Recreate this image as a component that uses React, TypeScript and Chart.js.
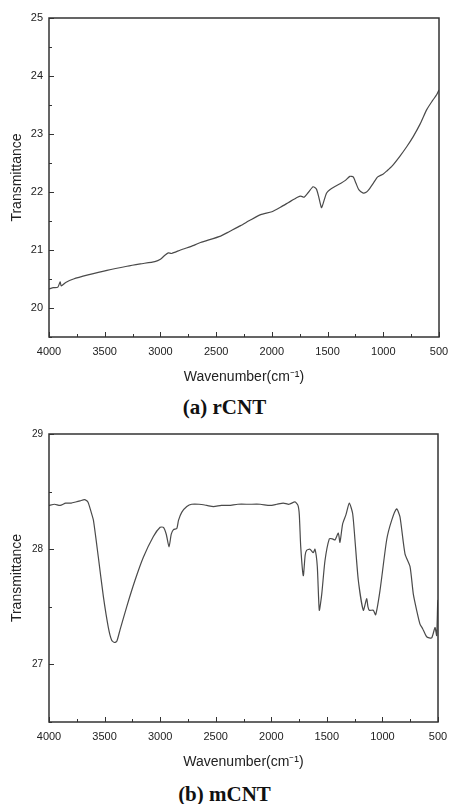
import React, { useEffect, useRef } from "react";
import { Chart, registerables } from "chart.js";

Chart.register(...registerables);

// ---- (a) rCNT ----
const rcntWavenumber = [
  4000, 3960, 3920, 3900, 3890, 3850, 3780, 3650, 3480, 3300, 3180, 3050, 3000, 2960, 2930, 2900,
  2820, 2700, 2640, 2460, 2380, 2280, 2190, 2100, 2000, 1920, 1850, 1770, 1740, 1710, 1670, 1630,
  1600, 1580, 1555, 1540, 1510, 1480, 1430, 1380, 1340, 1300, 1270, 1245, 1220, 1180, 1150, 1130,
  1090, 1050, 1000, 970, 920, 850, 790, 730, 670, 610, 560, 520, 500,
];
const rcntTransmittance = [
  20.33, 20.35, 20.36, 20.45, 20.38, 20.44, 20.5, 20.57, 20.65, 20.72, 20.76, 20.8, 20.84, 20.91, 20.95, 20.94,
  21.0, 21.08, 21.13, 21.24, 21.32, 21.42, 21.52, 21.61, 21.66, 21.74, 21.82, 21.91, 21.93, 21.91, 22.0, 22.09,
  22.05, 21.92, 21.73, 21.8, 21.98, 22.04, 22.1, 22.15, 22.2, 22.27, 22.26, 22.15, 22.04, 21.98, 22.0, 22.04,
  22.15, 22.26, 22.31, 22.36, 22.45, 22.62, 22.78, 22.96, 23.17, 23.42, 23.57, 23.68, 23.76,
];
const rcntYLabels = [20, 21, 22, 23, 24, 25];

// ---- (b) mCNT ----
const mcntWavenumber = [
  4000, 3950, 3900, 3850, 3800, 3760, 3720, 3680, 3650, 3620, 3600, 3556, 3511, 3466, 3436, 3410,
  3390, 3361, 3301, 3226, 3151, 3061, 3000, 2970, 2945, 2920, 2900, 2880, 2850, 2835, 2806, 2760,
  2716, 2650, 2580, 2520, 2450, 2380, 2300, 2200, 2100, 2012, 1950, 1892, 1840, 1787, 1760, 1748,
  1735, 1712, 1695, 1682, 1652, 1622, 1607, 1586, 1568, 1546, 1517, 1478, 1450, 1427, 1397, 1382,
  1358, 1328, 1298, 1268, 1247, 1217, 1172, 1142, 1130, 1118, 1082, 1061, 1022, 962, 917, 872,
  842, 797, 752, 722, 692, 662, 638, 602, 557, 527, 512, 503, 500,
];
const mcntTransmittance = [
  28.38, 28.39, 28.38, 28.4, 28.4, 28.41, 28.42, 28.43, 28.41, 28.32, 28.25, 27.93, 27.59, 27.32, 27.21, 27.19,
  27.2, 27.3, 27.5, 27.73, 27.93, 28.11, 28.19, 28.19, 28.13, 28.02, 28.13, 28.17, 28.18, 28.25, 28.32, 28.37,
  28.39, 28.39, 28.38, 28.37, 28.38, 28.38, 28.39, 28.39, 28.39, 28.38, 28.39, 28.4, 28.39, 28.41, 28.38, 28.3,
  28.02, 27.77, 27.95, 27.99, 28.0, 27.97, 28.0, 27.85, 27.47, 27.61, 27.9, 28.09, 28.09, 28.08, 28.14, 28.06,
  28.22, 28.3, 28.4, 28.31, 28.08, 27.73, 27.47, 27.57, 27.5, 27.47, 27.47, 27.43, 27.64, 28.08, 28.25, 28.35,
  28.28, 27.96, 27.85, 27.61, 27.47, 27.35, 27.31, 27.24, 27.23, 27.32, 27.25, 27.53, 27.56,
];
const mcntYLabels = [27, 28, 29];

const xTickLabels = [4000, 3500, 3000, 2500, 2000, 1500, 1000, 500];
const xTitle = "Wavenumber(cm\u207B\u00B9)";
const yTitle = "Transmittance";

const frameTicksPlugin = {
  id: "frameTicks",
  afterDraw(chart: any) {
    const ctx = chart.ctx;
    const { left, right, top, bottom } = chart.chartArea;
    ctx.save();
    ctx.strokeStyle = "#333";
    ctx.lineWidth = 1;
    const xs = chart.scales.x;
    xs.ticks.forEach((t: any) => {
      const px = Math.round(xs.getPixelForValue(t.value)) + 0.5;
      const len = xTickLabels.includes(t.value) ? 5 : 3;
      ctx.beginPath();
      ctx.moveTo(px, bottom);
      ctx.lineTo(px, bottom - len);
      ctx.stroke();
    });
    const ys = chart.scales.y;
    const yLabels: number[] = chart.options.plugins.frameTicks.yLabels;
    ys.ticks.forEach((t: any) => {
      const py = Math.round(ys.getPixelForValue(t.value)) + 0.5;
      const len = yLabels.includes(t.value) ? 5 : 3;
      ctx.beginPath();
      ctx.moveTo(left, py);
      ctx.lineTo(left + len, py);
      ctx.stroke();
    });
    ctx.lineWidth = 1.5;
    ctx.strokeStyle = "#333";
    ctx.strokeRect(left, top, right - left, bottom - top);
    ctx.restore();
  },
};

type PanelProps = {
  wavenumber: number[];
  transmittance: number[];
  yMin: number;
  yMax: number;
  yLabels: number[];
  padTop: number;
  padRight: number;
  height: number;
  xTickPad: number;
  yFontSize: number;
};

function Panel(p: PanelProps) {
  const ref = useRef<HTMLCanvasElement | null>(null);
  useEffect(() => {
    if (!ref.current) return;
    const data = p.wavenumber.map((w, i) => ({ x: w, y: p.transmittance[i] }));
    const chart = new Chart(ref.current, {
      type: "line",
      data: {
        datasets: [
          {
            data,
            borderColor: "#4a4a4a",
            borderWidth: 1.2,
            pointRadius: 0,
            tension: 0.2,
            fill: false,
          },
        ],
      },
      plugins: [frameTicksPlugin],
      options: {
        animation: false,
        responsive: false,
        devicePixelRatio: 1,
        layout: { padding: { top: p.padTop, right: p.padRight, left: 0, bottom: 0 } },
        plugins: {
          legend: { display: false },
          tooltip: { enabled: false },
          frameTicks: { yLabels: p.yLabels },
        } as any,
        scales: {
          x: {
            type: "linear",
            reverse: true,
            min: 500,
            max: 4000,
            grid: { display: false, drawTicks: false },
            border: { display: false },
            ticks: {
              stepSize: 250,
              autoSkip: false,
              maxRotation: 0,
              padding: p.xTickPad,
              color: "#222",
              font: { family: "Liberation Sans", size: 11 },
              callback: (v: any) => (xTickLabels.includes(Number(v)) ? String(v) : ""),
            },
            title: {
              display: true,
              text: xTitle,
              color: "#222",
              font: { family: "Liberation Sans", size: 14 },
              padding: { top: 0, bottom: 4.6 },
            },
            afterFit: (s: any) => {
              s.height = 53;
              s.paddingLeft = 0;
              s.paddingRight = 0;
            },
          },
          y: {
            type: "linear",
            min: p.yMin,
            max: p.yMax,
            grid: { display: false, drawTicks: false },
            border: { display: false },
            ticks: {
              stepSize: 0.5,
              autoSkip: false,
              padding: 6,
              color: "#222",
              font: { family: "Liberation Sans", size: p.yFontSize },
              callback: (v: any) => (p.yLabels.includes(Number(v)) ? String(v) : ""),
            },
            title: {
              display: true,
              text: yTitle,
              color: "#222",
              font: { family: "Liberation Sans", size: 14 },
              padding: { top: 9, bottom: 0 },
            },
            afterFit: (s: any) => {
              s.width = 49;
              s.paddingTop = 0;
              s.paddingBottom = 0;
            },
          },
        },
      } as any,
    });
    return () => chart.destroy();
  }, []);
  return <canvas ref={ref} width={449} height={p.height} style={{ display: "block" }} />;
}

const captionStyle: React.CSSProperties = {
  position: "absolute",
  left: 0,
  width: 449,
  textAlign: "center",
  fontFamily: "'Liberation Serif', serif",
  fontWeight: "bold",
  fontSize: 21,
  lineHeight: "24px",
  color: "#111",
};

export default function App() {
  return (
    <div style={{ position: "absolute", left: 0, top: 0, width: 449, height: 804, background: "#fff" }}>
      <div style={{ position: "absolute", left: 0, top: 0 }}>
        <Panel
          wavenumber={rcntWavenumber}
          transmittance={rcntTransmittance}
          yMin={19.5}
          yMax={25}
          yLabels={rcntYLabels}
          padTop={18}
          padRight={10}
          height={390}
          xTickPad={8.5}
          yFontSize={11}
        />
      </div>
      <div style={{ ...captionStyle, top: 395 }}>(a) rCNT</div>
      <div style={{ position: "absolute", left: 0, top: 420 }}>
        <Panel
          wavenumber={mcntWavenumber}
          transmittance={mcntTransmittance}
          yMin={26.5}
          yMax={29}
          yLabels={mcntYLabels}
          padTop={14}
          padRight={11}
          height={355}
          xTickPad={8.4}
          yFontSize={10}
        />
      </div>
      <div style={{ ...captionStyle, top: 782 }}>(b) mCNT</div>
    </div>
  );
}
